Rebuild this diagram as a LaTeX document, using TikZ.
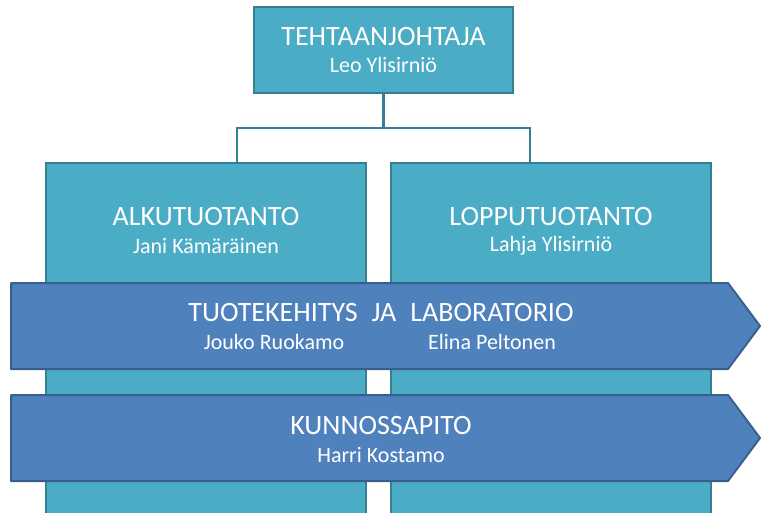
\documentclass[tikz,border=0pt]{standalone}
\usepackage{fontspec}
\setmainfont{Carlito}
\begin{document}
\begin{tikzpicture}[x=1pt,y=-1pt,
  unitbox/.style={draw=tealedge,fill=tealfill,line width=2.2pt,minimum width=#1,inner sep=0pt},
  band/.style={draw=blueedge,fill=bluefill,line width=2pt,line join=round},
  conn/.style={draw=tealedge,line width=2.8pt},
  head/.style={text=white,font=\fontsize{28}{32}\selectfont},
  person/.style={text=white,font=\fontsize{22}{26}\selectfont}]
\definecolor{tealfill}{HTML}{4BACC6}
\definecolor{tealedge}{HTML}{357F92}
\definecolor{bluefill}{HTML}{4F81BD}
\definecolor{blueedge}{HTML}{3A5F8E}
\useasboundingbox (0,0) rectangle (762,512);
\clip (0,0) rectangle (762,512);

% management box
\node[unitbox=259pt,minimum height=86pt] (top) at (383.5,50) {};
\node[head] (topt) at (383.5,37) {TEHTAANJOHTAJA};
\node[person] (topn) at (383.5,65) {Leo Ylisirniö};

% production columns (run past the lower edge)
\node[unitbox=320pt,minimum height=380pt,anchor=north] (left) at (206,162) {};
\node[unitbox=320pt,minimum height=380pt,anchor=north] (right) at (551,162) {};
\node[head] (leftt) at (206,217) {ALKUTUOTANTO};
\node[person] (leftn) at (206,246) {Jani Kämäräinen};
\node[head] (rightt) at (551,217) {LOPPUTUOTANTO};
\node[person] (rightn) at (551,246) {Lahja Ylisirniö};

% organisation lines
\coordinate (bus) at (383.5,128);
\coordinate (la) at (237,162);
\coordinate (ra) at (530,162);
\draw[conn] (top.south) -- (bus);
\draw[conn] (la) |- (bus) -| (ra);

% cross-functional bands
\draw[band] (11,283) -- (728,283) -- (760,326) -- (728,369) -- (11,369) -- cycle;
\node[head] (rdt) at (381,313) {TUOTEKEHITYS\hspace{0.5em}JA\hspace{0.5em}LABORATORIO};
\node[person] (rdn1) at (274,342) {Jouko Ruokamo};
\node[person] (rdn2) at (492,342) {Elina Peltonen};

\draw[band] (11,395) -- (728,395) -- (760,438) -- (728,481) -- (11,481) -- cycle;
\node[head] (mt) at (381,426) {KUNNOSSAPITO};
\node[person] (mn) at (381,455) {Harri Kostamo};
\end{tikzpicture}
\end{document}
